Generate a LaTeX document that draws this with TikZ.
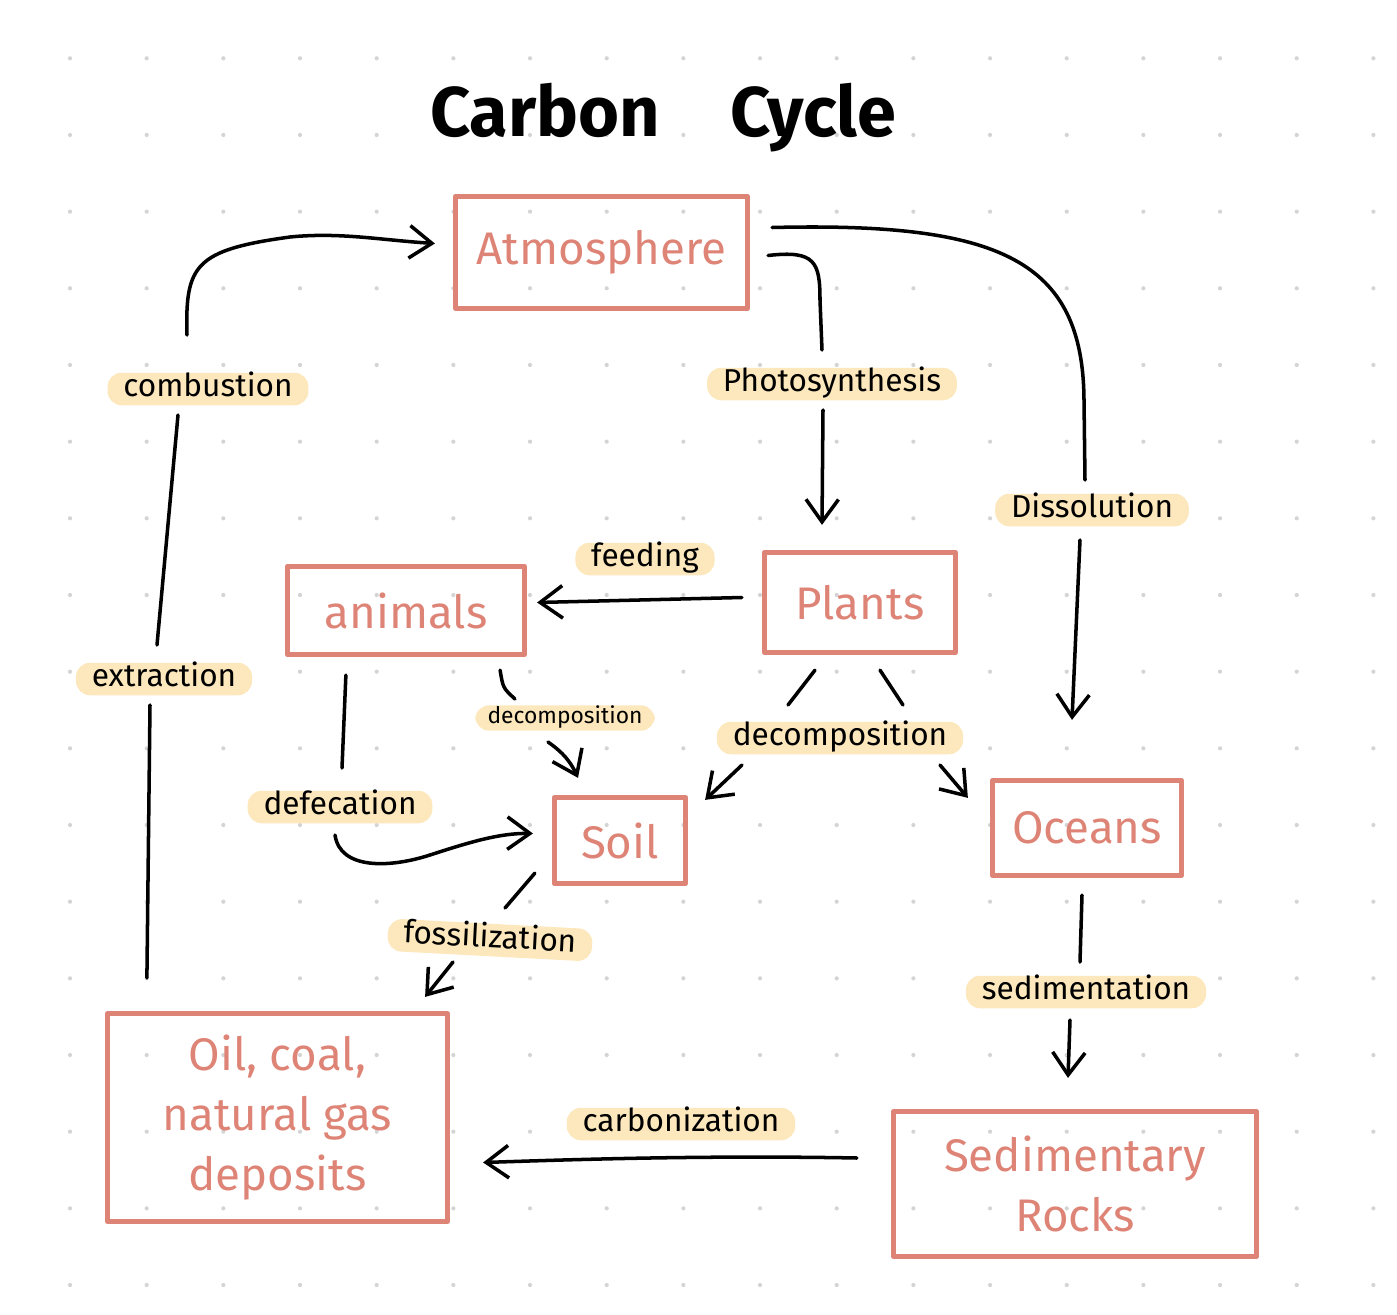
\documentclass[tikz,border=0pt]{standalone}
\usepackage{fontspec}
\setmainfont{Fira Sans}
\usetikzlibrary{arrows.meta,calc}
\definecolor{boxred}{RGB}{222,132,118}
\definecolor{hilite}{RGB}{252,232,188}
\definecolor{dotgray}{RGB}{212,212,212}

\begin{document}
\begin{tikzpicture}[x=0.02cm, y=-0.02cm, >={Straight Barb[length=4.5mm,width=6.5mm]}, line width=2pt, line cap=round, line join=round]
        \tikzstyle{box}=[draw=boxred, line width=3pt, text=boxred, font=\fontsize{26}{34}\selectfont, align=center, inner sep=0pt]
        \tikzstyle{lbl}=[fill=hilite, rounded corners=8pt, font=\fontsize{18}{20}\selectfont, text height=12pt, text depth=3.5pt, inner xsep=9pt, inner ysep=1.5pt]
        \tikzstyle{small lbl}=[lbl, font=\fontsize{13}{15}\selectfont, text height=9pt, text depth=2.5pt, inner xsep=7pt]

        \useasboundingbox (0,0) rectangle (1397,1315);
        % dotted paper
        \foreach \i in {0,...,17}
            \foreach \j in {0,...,16}
                \fill[dotgray] ({70+76.67*\i},{58.3+76.67*\j}) circle (1.2pt);

        \node[font=\bfseries\fontsize{40}{44}\selectfont] (title) at (663,118) {Carbon\quad Cycle};

        % reservoirs
        \node[box, minimum width=5.84cm, minimum height=2.24cm] (atmo)    at (601.5,252.5) {Atmosphere};
        \node[box, minimum width=3.82cm, minimum height=2.00cm] (plants)  at (860,602.5)   {Plants};
        \node[box, minimum width=4.74cm, minimum height=1.76cm] (animals) at (406,610.5)   {animals};
        \node[box, minimum width=2.62cm, minimum height=1.72cm] (soil)    at (620,840.5)   {Soil};
        \node[box, minimum width=3.78cm, minimum height=1.90cm] (oceans)  at (1087,828)    {Oceans};
        \node[box, minimum width=6.80cm, minimum height=4.16cm] (oil)     at (277.5,1117.5) {Oil, coal,\\natural gas\\deposits};
        \node[box, minimum width=7.26cm, minimum height=2.90cm] (rocks)   at (1075,1184)   {Sedimentary\\Rocks};

        % processes
        \node[lbl]       (comb)   at (208,389)  {combustion};
        \node[lbl]       (photo)  at (832,384)  {Photosynthesis};
        \node[lbl]       (diss)   at (1092,510) {Dissolution};
        \node[lbl]       (feed)   at (645,559)  {feeding};
        \node[lbl]       (extr)   at (164,679)  {extraction};
        \node[small lbl] (decoA)  at (565,718)  {decomposition};
        \node[lbl]       (decoB)  at (840,738)  {decomposition};
        \node[lbl]       (defec)  at (340,807)  {defecation};
        \node[lbl, rotate=-3] (fossil) at (490,940) {fossilization};
        \node[lbl]       (sedim)  at (1086,992) {sedimentation};
        \node[lbl]       (carb)   at (681,1124) {carbonization};

        % combustion / extraction
        \draw ($(oil.north west)+(42,-33)$) -- ($(extr)+(-14,26)$);
        \draw ($(extr)+(-7,-34)$) -- ($(comb)+(-30,26)$);
        \draw[->] ($(comb)+(-21,-54)$) .. controls (185,265) and (195,250) .. (290,237)
            .. controls (340,232) and (380,240) .. ($(atmo.west)+(-18,-9)$);

        % photosynthesis
        \draw ($(atmo.east)+(18,3)$) .. controls (815,250) and (820,262) .. (820,300) -- ($(photo)+(-10,-34)$);
        \draw[->] ($(photo)+(-9,26)$) -- ($(plants.north)+(-38,-25)$);

        % dissolution
        \draw ($(atmo.east)+(22,-25)$) .. controls (1000,222) and (1083,260) .. (1084,400) -- ($(diss)+(-7,-30)$);
        \draw[->] ($(diss)+(-12,30)$) -- ($(oceans.north)+(-15,-58)$);

        % feeding
        \draw[->] ($(plants.west)+(-20,-5)$) -- ($(animals.east)+(10,-8)$);

        % decomposition
        \draw ($(animals.south east)+(-27,13)$) .. controls (503,688) .. ($(decoA)+(-50,-19)$);
        \draw[->] ($(decoA)+(-17,24)$) to[out=-35,in=115] ($(soil.north)+(-42,-17)$);
        \draw ($(plants.south)+(-45,15)$) -- ($(decoB)+(-52,-33)$);
        \draw ($(plants.south)+(20,15)$) -- ($(decoB)+(63,-33)$);
        \draw[->] ($(decoB)+(-98,27)$) -- ($(soil.north east)+(17,5)$);
        \draw[->] ($(decoB)+(100,27)$) -- ($(oceans.north west)+(-22,20)$);

        % defecation
        \draw ($(animals.south west)+(61,18)$) -- ($(defec)+(2,-39)$);
        \draw[->] ($(defec)+(-5,28)$) .. controls (340,870) and (390,868) .. (430,855)
            .. controls (470,842) and (500,833) .. ($(soil.west)+(-19,-7)$);

        % fossilization
        \draw ($(soil.south west)+(-17,-13)$) -- ($(fossil)+(15,-32)$);
        \draw[->] ($(fossil)+(-37,22)$) -- ($(oil.north east)+(-25,-14)$);

        % sedimentation
        \draw ($(oceans.south)+(-5,17)$) -- ($(sedim)+(-6,-30)$);
        \draw[->] ($(sedim)+(-16,28)$) -- ($(rocks.north)+(-7,-31)$);

        % carbonization
        \draw[->] ($(rocks.west)+(-34,-26)$) .. controls (700,1155) and (560,1160) .. ($(oil.east)+(33,45)$);
    \end{tikzpicture}
\end{document}
